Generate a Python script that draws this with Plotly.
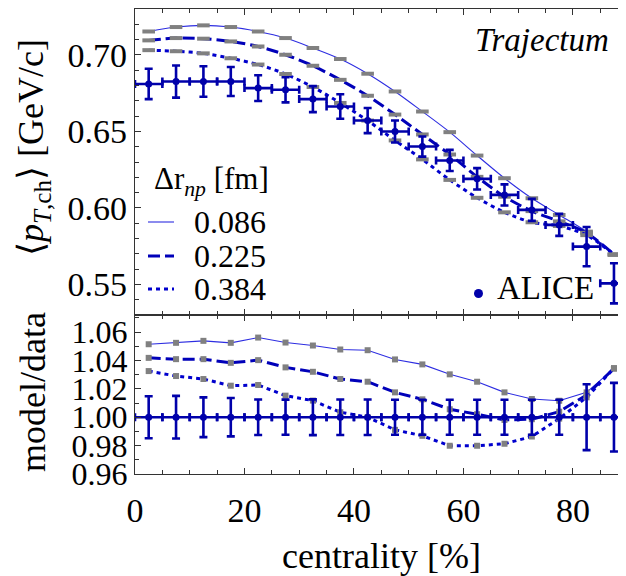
import plotly.graph_objects as go

# ---------------- data ----------------
centrality = [2.5, 7.5, 12.5, 17.5, 22.5, 27.5, 32.5, 37.5, 42.5,
              47.5, 52.5, 57.5, 62.5, 67.5, 72.5, 77.5, 82.5, 87.5]
bin_halfwidth = [2.5, 2.5, 2.5, 2.5, 2.5, 2.5, 2.5, 2.5, 2.5,
                 2.5, 2.5, 2.5, 2.5, 2.5, 2.5, 2.5, 2.5, 2.5]

alice_pt = [0.681, 0.6826, 0.6826, 0.6826, 0.6783, 0.6772, 0.6711, 0.6663, 0.6571,
            0.6499, 0.6401, 0.631, 0.619, 0.6085, 0.5987, 0.5889, 0.5747, 0.5507]
alice_pt_err = [0.0099, 0.0105, 0.0100, 0.0095, 0.0084, 0.0082, 0.0085, 0.0080, 0.0082,
                0.0072, 0.0066, 0.0069, 0.0070, 0.0069, 0.0072, 0.0072, 0.0128, 0.0131]

model_086 = [0.7153, 0.7182, 0.7193, 0.7182, 0.7153, 0.711, 0.7045, 0.6973, 0.6877,
             0.6761, 0.663, 0.6495, 0.6342, 0.6194, 0.6063, 0.5954, 0.5845, 0.5693]
model_225 = [0.7095, 0.711, 0.7106, 0.7088, 0.7055, 0.7001, 0.6929, 0.6837, 0.6733,
             0.6610, 0.6480, 0.6349, 0.6203, 0.6073, 0.5979, 0.5912, 0.5837, 0.5696]
model_384 = [0.7031, 0.7024, 0.701, 0.6978, 0.6937, 0.6875, 0.679, 0.6686, 0.6571,
             0.6441, 0.6317, 0.6183, 0.6066, 0.5971, 0.5906, 0.5882, 0.5822, 0.5696]

ratio_alice = [1.0, 1.0, 1.0, 1.0, 1.0, 1.0, 1.0, 1.0, 1.0,
               1.0, 1.0, 1.0, 1.0, 1.0, 1.0, 1.0, 1.0, 1.0]
ratio_alice_err = [0.0148, 0.0150, 0.0140, 0.0135, 0.0125, 0.0124, 0.0126, 0.0125, 0.0125,
                   0.0123, 0.0123, 0.0123, 0.0123, 0.0123, 0.0123, 0.0123, 0.0232, 0.0242]

ratio_086 = [1.0514, 1.0524, 1.0538, 1.0524, 1.0561, 1.0526, 1.0505, 1.0477, 1.0472,
             1.0407, 1.0372, 1.0302, 1.025, 1.0175, 1.0128, 1.0116, 1.0175, 1.0344]
ratio_225 = [1.0418, 1.0409, 1.0409, 1.0383, 1.0402, 1.0351, 1.032, 1.0269, 1.025,
             1.0175, 1.0126, 1.0056, 1.0021, 0.9981, 0.9986, 1.0039, 1.0157, 1.0344]
ratio_384 = [1.0325, 1.029, 1.0269, 1.0222, 1.0227, 1.0152, 1.0117, 1.0035, 1.0,
             0.9911, 0.9869, 0.9799, 0.9799, 0.9813, 0.9864, 0.9990, 1.0140, 1.0344]

legend_labels = ["0.086", "0.225", "0.384"]
x_ticks = [0, 20, 40, 60, 80]
y_ticks_top = [0.55, 0.60, 0.65, 0.70]
y_ticks_bottom = [0.96, 0.98, 1.00, 1.02, 1.04, 1.06]

# ---------------- styles ----------------
FONT = "'Liberation Serif', 'Times New Roman', Times, serif"
ALICE_COL = "rgb(0,0,170)"
GRAY = "rgb(128,128,128)"
styles = [
    dict(color="rgb(45,45,225)", width=1.1, dash="solid"),
    dict(color="rgb(0,0,185)", width=3, dash="12px,5px"),
    dict(color="rgb(0,0,205)", width=3, dash="4px,4px"),
]

OFF = 8  # page body margin
W, H = 626 - OFF, 576 - OFF
ML, MR, MT, MB = 135 - OFF, 0, 9 - OFF, 102
PW, PH = W - ML - MR, H - MT - MB
split = (474 - 315) / PH


def px(x, y):
    """page pixel -> paper coordinates"""
    return (x - OFF - ML) / PW, (H - MB - (y - OFF)) / PH


fig = go.Figure()

models_top = [model_086, model_225, model_384]
models_bot = [ratio_086, ratio_225, ratio_384]
for i in range(3):
    st = styles[i]
    fig.add_trace(go.Scatter(
        x=centrality, y=models_top[i], mode="lines+markers", xaxis="x", yaxis="y",
        line=dict(color=st["color"], width=st["width"], dash=st["dash"], shape="spline", smoothing=0.8),
        marker=dict(symbol="line-ew", size=9, color=GRAY, line=dict(color=GRAY, width=4)),
        showlegend=False, hoverinfo="skip"))
    fig.add_trace(go.Scatter(
        x=centrality, y=models_bot[i], mode="lines+markers", xaxis="x2", yaxis="y2",
        line=dict(color=st["color"], width=st["width"], dash=st["dash"]),
        marker=dict(symbol="square", size=6, color=GRAY, line=dict(width=0)),
        showlegend=False, hoverinfo="skip"))

err_style = dict(color=ALICE_COL, thickness=2.6, width=4)
fig.add_trace(go.Scatter(
    x=centrality, y=alice_pt, mode="markers", xaxis="x", yaxis="y",
    marker=dict(symbol="circle", size=7, color=ALICE_COL),
    error_y=dict(type="data", array=alice_pt_err, visible=True, **err_style),
    error_x=dict(type="data", array=bin_halfwidth, visible=True, **err_style),
    showlegend=False))
fig.add_trace(go.Scatter(
    x=centrality, y=ratio_alice, mode="markers", xaxis="x2", yaxis="y2",
    marker=dict(symbol="circle", size=7, color=ALICE_COL),
    error_y=dict(type="data", array=ratio_alice_err, visible=True, **err_style),
    error_x=dict(type="data", array=bin_halfwidth, visible=True, **err_style),
    showlegend=False))

axis_common = dict(
    showline=True, linecolor="#333333", linewidth=1.4, mirror="allticks",
    ticks="inside", ticklen=6, tickwidth=1.2, tickcolor="#333333",
    showgrid=False, zeroline=False, automargin=False,
)

fig.update_layout(
    width=W, height=H,
    margin=dict(l=ML, r=MR, t=MT, b=MB, autoexpand=False),
    paper_bgcolor="white", plot_bgcolor="white",
    font=dict(family=FONT, color="black"),
    xaxis=dict(domain=[0, 1], anchor="y", range=[0, 89.7], tickvals=x_ticks,
               showticklabels=False,
               minor=dict(ticks="inside", ticklen=3.5, dtick=5, tick0=0, tickcolor="#333333"),
               **axis_common),
    yaxis=dict(domain=[split, 1], anchor="x", range=[0.53, 0.73], tickvals=y_ticks_top,
               tickformat=".2f", tickfont=dict(family=FONT, size=34, color="black"),
               minor=dict(ticks="inside", ticklen=3.5, dtick=0.01, tick0=0.5, tickcolor="#333333"),
               **axis_common),
    xaxis2=dict(domain=[0, 1], anchor="y2", range=[0, 89.7], tickvals=x_ticks,
                ticklabelstandoff=6, tickfont=dict(family=FONT, size=34, color="black"),
                minor=dict(ticks="inside", ticklen=3.5, dtick=5, tick0=0, tickcolor="#333333"),
                **axis_common),
    yaxis2=dict(domain=[0, split], anchor="x2", range=[0.96, 1.072], tickvals=y_ticks_bottom,
                tickformat=".2f", tickfont=dict(family=FONT, size=32, color="black"),
                minor=dict(ticks="inside", ticklen=3.5, dtick=0.01, tick0=0.96, tickcolor="#333333"),
                **axis_common),
)

annotations = []


def add_text(text, x, y, size, xanchor="center", yanchor="middle", angle=0):
    ax, ay = px(x, y)
    annotations.append(dict(
        text=text, x=ax, y=ay, xref="paper", yref="paper", showarrow=False,
        xanchor=xanchor, yanchor=yanchor, textangle=angle,
        font=dict(family=FONT, size=size, color="black")))


add_text("<i>Trajectum</i>", 542, 40, 33)
add_text("ALICE", 495, 288, 33, xanchor="left")
add_text("Δr<sub><i>np</i></sub> [fm]", 152, 181, 31, xanchor="left")
leg_y = [222, 256, 289]
for i in range(3):
    add_text(legend_labels[i], 192, leg_y[i], 32, xanchor="left")
add_text("⟨<i>p</i><sub><i>T</i>,ch</sub>⟩ [GeV/c]", 33, 148, 36, angle=-90)
add_text("model/data", 33, 392, 36, angle=-90)
add_text("centrality [%]", 381, 556, 36)
fig.update_layout(annotations=annotations)

shapes = []
for i in range(3):
    st = styles[i]
    x0, y0 = px(148, leg_y[i])
    x1, _ = px(174, leg_y[i])
    shapes.append(dict(type="line", xref="paper", yref="paper", x0=x0, x1=x1, y0=y0, y1=y0,
                       line=dict(color=st["color"], width=st["width"], dash=st["dash"])))
cx0, cy0 = px(474, 289)
cx1, cy1 = px(483, 298)
shapes.append(dict(type="circle", xref="paper", yref="paper", x0=cx0, x1=cx1, y0=cy0, y1=cy1,
                   fillcolor=ALICE_COL, line=dict(color=ALICE_COL, width=0)))
fig.update_layout(shapes=shapes)

fig.write_html("out.html")
